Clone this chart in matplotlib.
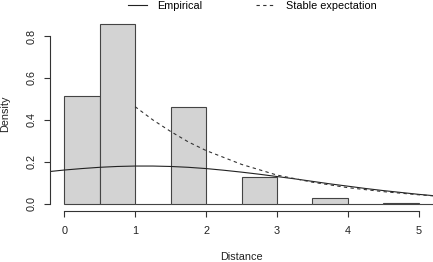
import matplotlib.pyplot as plt
import numpy as np

plt.rcParams['font.family'] = ['Liberation Sans', 'DejaVu Sans']

# histogram (density), bins of width 0.5
bin_edges = [0, 0.5, 1, 1.5, 2, 2.5, 3, 3.5, 4, 4.5, 5, 5.5]
density = [0.514, 0.857, 0, 0.463, 0, 0.127, 0, 0.027, 0, 0.005, 0]

# empirical curve
emp_x = [-0.2, 0, 0.25, 0.5, 0.75, 1, 1.25, 1.5, 1.75, 2, 2.25, 2.5, 2.75,
         3, 3.25, 3.5, 3.75, 4, 4.25, 4.5, 4.75, 5, 5.2]
emp_y = [0.154, 0.161, 0.168, 0.174, 0.178, 0.180, 0.180, 0.178, 0.174, 0.168,
         0.160, 0.151, 0.141, 0.130, 0.119, 0.107, 0.095, 0.084, 0.073, 0.063,
         0.054, 0.045, 0.039]

# stable expectation (dashed)
stab_x = [1, 1.25, 1.5, 1.75, 2, 2.5, 3, 3.5, 4, 4.5, 5, 5.2]
stab_y = [0.463, 0.40, 0.345, 0.295, 0.254, 0.188, 0.137, 0.103, 0.077, 0.058, 0.043, 0.038]

fig = plt.figure(figsize=(4.33, 2.62), dpi=100)
ax = fig.add_axes([50 / 433, 51 / 262, 383 / 433, 194.1 / 262])

widths = np.diff(bin_edges)
ax.bar(bin_edges[:-1], density, width=widths, align='edge',
       color='#d3d3d3', edgecolor='#444444', linewidth=0.8)
ax.plot(emp_x, emp_y, color='#222222', lw=0.8, label='Empirical')
ax.plot(stab_x, stab_y, color='#333333', lw=0.8, ls=(0, (3, 3)), label='Stable expectation')

ax.set_xlim(-0.2, 5.2)
ax.set_ylim(-0.0343, 0.891)

for s in ['top', 'right']:
    ax.spines[s].set_visible(False)
ax.spines['left'].set_bounds(0, 0.8)
ax.spines['bottom'].set_bounds(0, 5)
for s in ['left', 'bottom']:
    ax.spines[s].set_linewidth(0.8)
    ax.spines[s].set_color('#333333')

ax.set_xticks([0, 1, 2, 3, 4, 5])
ax.set_yticks([0.0, 0.2, 0.4, 0.6, 0.8])
ax.set_yticklabels(['0.0', '0.2', '0.4', '0.6', '0.8'], rotation=90, va='center')
ax.tick_params(direction='out', length=4.3, width=0.8, color='#333333',
               labelsize=7.8, labelcolor='#222222')
ax.tick_params(axis='x', pad=6.5)
ax.tick_params(axis='y', pad=5)

ax.set_xlabel('Distance', fontsize=7.8, color='#222222', va='center')
ax.set_ylabel('Density', fontsize=7.8, color='#222222', va='center')
ax.xaxis.set_label_coords(0.5, (211 - 256.5) / 194.1)
ax.yaxis.set_label_coords(-44.5 / 383, 0.5)

fig.legend(loc='center', bbox_to_anchor=(252 / 433, 1 - 6 / 262), ncol=2,
           frameon=False, fontsize=7.8, handlelength=1.8, handletextpad=0.9,
           columnspacing=5.0, borderpad=0, borderaxespad=0)

fig.savefig('out.png', dpi=100)
